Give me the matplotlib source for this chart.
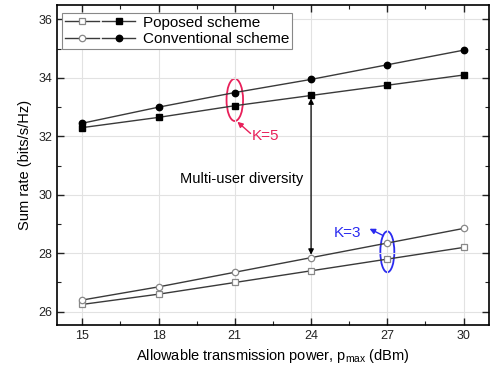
import matplotlib.pyplot as plt
from matplotlib.patches import Ellipse
from matplotlib.legend_handler import HandlerTuple
from matplotlib.ticker import MultipleLocator

plt.rcParams['font.family'] = ['Liberation Sans', 'DejaVu Sans']
plt.rcParams['mathtext.fontset'] = 'custom'
plt.rcParams['mathtext.rm'] = 'Liberation Sans'

# data
power = [15, 18, 21, 24, 27, 30]
prop_k5 = [32.3, 32.65, 33.05, 33.4, 33.75, 34.1]
conv_k5 = [32.45, 33.0, 33.5, 33.95, 34.45, 34.95]
prop_k3 = [26.25, 26.6, 27.0, 27.4, 27.8, 28.2]
conv_k3 = [26.4, 26.85, 27.35, 27.85, 28.35, 28.85]
xticks = [15, 18, 21, 24, 27, 30]
yticks = [26, 28, 30, 32, 34, 36]

fig = plt.figure(figsize=(4.9, 3.76), dpi=100)
ax = fig.add_axes([0.116, 0.136, 0.882, 0.851])

lc = '#3a3a3a'
ms = 4.6
l1, = ax.plot(power, prop_k3, color=lc, lw=1, marker='s', ms=ms, mfc='white', mec='#888888', mew=0.9)
l2, = ax.plot(power, prop_k5, color=lc, lw=1, marker='s', ms=ms, mfc='black', mec='black')
l3, = ax.plot(power, conv_k3, color=lc, lw=1, marker='o', ms=ms, mfc='white', mec='#888888', mew=0.9)
l4, = ax.plot(power, conv_k5, color=lc, lw=1, marker='o', ms=ms, mfc='black', mec='black')

ax.set_xlim(14, 31)
ax.set_ylim(25.55, 36.5)
ax.set_xticks(xticks)
ax.set_yticks(yticks)
ax.xaxis.set_minor_locator(MultipleLocator(1.5))
ax.yaxis.set_minor_locator(MultipleLocator(1))
ax.tick_params(which='both', direction='in', top=True, right=True, labelsize=9, colors='#222222')
ax.tick_params(which='major', length=5, width=1)
ax.tick_params(which='minor', length=3, width=0.8)
ax.grid(True, color='#e2e2e2', lw=0.8)
for s in ax.spines.values():
    s.set_linewidth(1.2)

ax.set_xlabel('Allowable transmission power, p$_{\\mathrm{max}}$ (dBm)', fontsize=10.5)
ax.set_ylabel('Sum rate (bits/s/Hz)', fontsize=10.5)

leg = ax.legend([(l1, l2), (l3, l4)], ['Poposed scheme', 'Conventional scheme'],
                handler_map={tuple: HandlerTuple(ndivide=None, pad=0.2)},
                loc='upper left', bbox_to_anchor=(0.005, 0.985), numpoints=1,
                handlelength=4.6, handletextpad=0.5, borderpad=0.2, labelspacing=0.15,
                fontsize=11, fancybox=False, framealpha=1, edgecolor='#888888', borderaxespad=0.2)
leg.get_frame().set_linewidth(0.8)

red = '#e8205a'
blue = '#2a2af0'
ax.add_patch(Ellipse((21, 33.25), 0.65, 1.45, fill=False, ec=red, lw=1.3))
ax.text(21.65, 32.03, 'K=5', color=red, fontsize=11, ha='left', va='center')
ax.annotate('', xy=(21.1, 32.5), xytext=(21.62, 32.1),
            arrowprops=dict(arrowstyle='-|>', color=red, lw=1, mutation_scale=8,
                            shrinkA=0, shrinkB=0))
ax.add_patch(Ellipse((27, 28.05), 0.55, 1.4, fill=False, ec=blue, lw=1.3))
ax.text(24.9, 28.7, 'K=3', color=blue, fontsize=11, ha='left', va='center')
ax.annotate('', xy=(26.3, 28.84), xytext=(26.85, 28.6),
            arrowprops=dict(arrowstyle='-|>', color=blue, lw=1, mutation_scale=8,
                            shrinkA=0, shrinkB=0))
ax.annotate('', xy=(24, 33.3), xytext=(24, 27.95),
            arrowprops=dict(arrowstyle='<|-|>', color='black', lw=0.9, mutation_scale=8,
                            shrinkA=0, shrinkB=0))
ax.text(23.7, 30.55, 'Multi-user diversity', fontsize=10.5, ha='right', va='center')

fig.savefig('out.png')
